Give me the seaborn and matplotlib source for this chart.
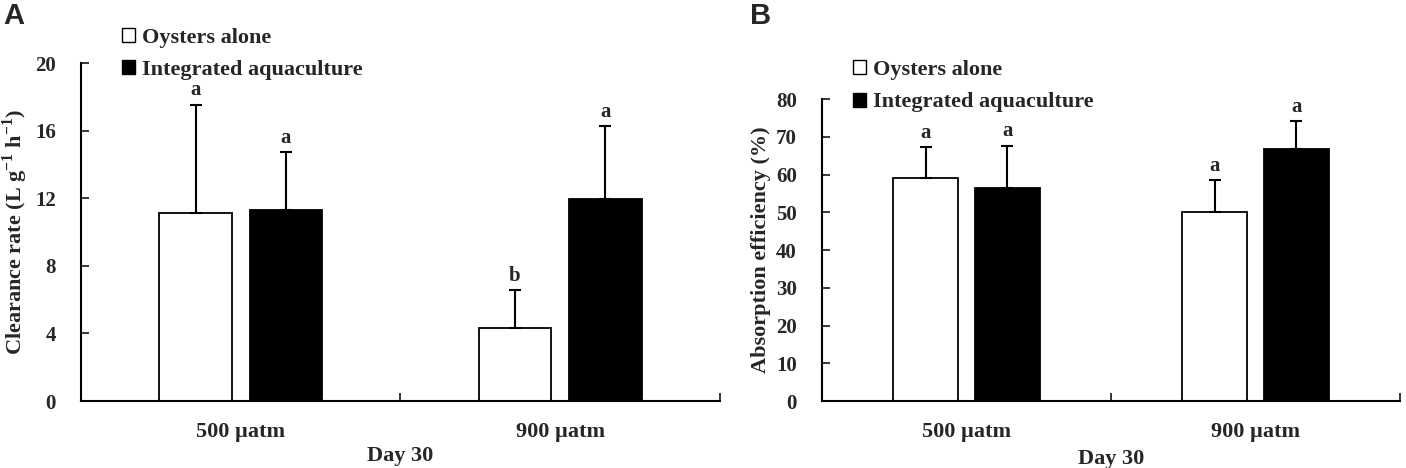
import numpy as np
import pandas as pd
import matplotlib
matplotlib.use("Agg")
import matplotlib.pyplot as plt
import seaborn as sns
from matplotlib.patches import Patch
from matplotlib.ticker import FixedLocator

# data
co2 = ["500 µatm", "900 µatm"]
groups = ["Oysters alone", "Integrated aquaculture"]

# panel A - clearance rate (mean, upper SD)
cr_mean = {"Oysters alone": [11.15, 4.35], "Integrated aquaculture": [11.3, 11.95]}
cr_sd = {"Oysters alone": [6.4, 2.2], "Integrated aquaculture": [3.45, 4.35]}
cr_letters = {"Oysters alone": ["a", "b"], "Integrated aquaculture": ["a", "a"]}

# panel B - absorption efficiency
ae_mean = {"Oysters alone": [59.0, 50.2], "Integrated aquaculture": [56.4, 66.7]}
ae_sd = {"Oysters alone": [8.4, 8.4], "Integrated aquaculture": [11.3, 7.5]}
ae_letters = {"Oysters alone": ["a", "a"], "Integrated aquaculture": ["a", "a"]}

sns.set_style("ticks")
plt.rcParams["font.family"] = ["Liberation Serif", "DejaVu Serif"]
plt.rcParams["font.weight"] = "bold"
plt.rcParams["mathtext.fontset"] = "custom"
plt.rcParams["mathtext.rm"] = "Liberation Serif:bold"
plt.rcParams["mathtext.bf"] = "Liberation Serif:bold"

palette = {"Oysters alone": "white", "Integrated aquaculture": "black"}
FS = 16


def long_table(means):
    rows = []
    for g in groups:
        for c, v in zip(co2, means[g]):
            rows.append({"co2": c, "group": g, "value": v})
    return pd.DataFrame(rows)


def panel(ax, means, sds, letters, ylim, yticks, ylabel, legend_anchor, xlabelpad):
    df = long_table(means)
    sns.barplot(data=df, x="co2", y="value", hue="group", hue_order=groups,
                order=co2, palette=palette, edgecolor="black", linewidth=1.3,
                width=0.566, gap=0.2, errorbar=None, legend=False, ax=ax)

    # upward-only error bars and significance letters
    for g, cont in zip(groups, ax.containers):
        for bar, sd, lab in zip(cont, sds[g], letters[g]):
            xc = bar.get_x() + bar.get_width() / 2
            top = bar.get_height()
            ax.errorbar(xc, top, yerr=[[0], [sd]], fmt="none", ecolor="black",
                        elinewidth=1.5, capsize=4, capthick=1.5)
            ax.annotate(lab, (xc, top + sd), xytext=(0, 3), textcoords="offset points",
                        ha="center", va="bottom", fontsize=15, fontweight="bold")

    ax.set_xlim(-0.5, 1.5)
    ax.set_ylim(*ylim)
    ax.set_yticks(yticks)
    ax.tick_params(axis="y", direction="in", length=6, width=1.3, pad=18, labelsize=15)
    ax.tick_params(axis="x", which="major", length=0, pad=15, labelsize=FS)
    ax.xaxis.set_minor_locator(FixedLocator([0.5, 1.5]))
    ax.tick_params(axis="x", which="minor", direction="in", length=6, width=1.3)
    for lab in ax.get_xticklabels() + ax.get_yticklabels():
        lab.set_fontweight("bold")
    sns.despine(ax=ax)
    for s in ["left", "bottom"]:
        ax.spines[s].set_linewidth(1.5)
        ax.spines[s].set_color("black")
    ax.set_xlabel("Day 30", fontsize=FS, fontweight="bold", labelpad=xlabelpad)
    ax.set_ylabel(ylabel, fontsize=FS, fontweight="bold", labelpad=4)

    handles = [Patch(facecolor=palette[g], edgecolor="black", linewidth=1.0, label=g)
               for g in groups]
    ax.legend(handles=handles, loc="upper left", bbox_to_anchor=legend_anchor,
              frameon=False, handlelength=0.6, handleheight=0.6,
              handletextpad=0.3, labelspacing=0.55, borderaxespad=0, borderpad=0,
              prop={"family": "Liberation Serif", "weight": "bold", "size": FS})


fig = plt.figure(figsize=(14.06, 4.68), dpi=100)
ax_a = fig.add_axes([0.0576, 0.143, 0.4545, 0.722])
ax_b = fig.add_axes([0.5846, 0.143, 0.4111, 0.645])

panel(ax_a, cr_mean, cr_sd, cr_letters, (0, 20), [0, 4, 8, 12, 16, 20],
      r"Clearance rate (L g$^{-1}$ h$^{-1}$)", (0.064, 1.104), 3)
panel(ax_b, ae_mean, ae_sd, ae_letters, (0, 80), list(range(0, 81, 10)),
      "Absorption efficiency (%)", (0.054, 1.129), 5)

fig.text(0.002, 0.995, "A", ha="left", va="top", fontsize=21, fontweight="bold",
         family="Liberation Sans")
fig.text(0.5335, 0.995, "B", ha="left", va="top", fontsize=21, fontweight="bold",
         family="Liberation Sans")

fig.savefig("out.png", dpi=100)
